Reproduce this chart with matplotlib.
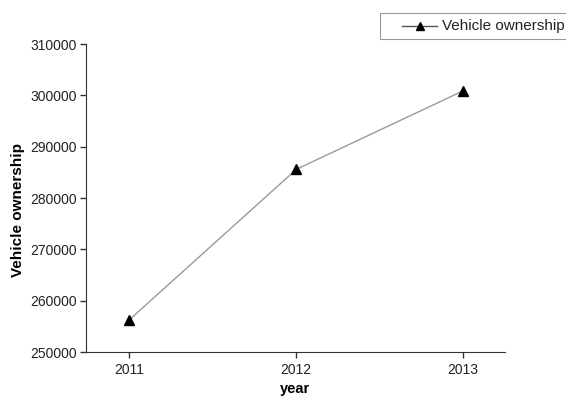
import matplotlib.pyplot as plt
from matplotlib.patches import Rectangle
from matplotlib.lines import Line2D

plt.rcParams['font.family'] = ['Liberation Sans', 'DejaVu Sans']

years = [2011, 2012, 2013]
ownership = [256300, 285600, 300900]

W, H = 566, 401
fig = plt.figure(figsize=(W / 100, H / 100), dpi=100)
ax = fig.add_axes([0.152, 0.122, 0.740, 0.768])

line, = ax.plot(years, ownership, color='#9a9a9a', lw=1, marker='^', ms=7,
                mfc='black', mec='black', label='Vehicle ownership')

ax.set_xlim(2010.74, 2013.25)
ax.set_ylim(250000, 310000)
ax.set_xticks(years)
ax.set_yticks(range(250000, 310001, 10000))
ax.tick_params(labelsize=10, length=4, width=1, pad=2.5, color='#333333',
               labelcolor='#222222')
ax.tick_params(axis='x', pad=4)

for side in ['top', 'right']:
    ax.spines[side].set_visible(False)
for side in ['left', 'bottom']:
    ax.spines[side].set_color('#333333')

ax.set_xlabel('year', fontsize=10.5, fontweight='bold', labelpad=3.5)
ax.set_ylabel('Vehicle ownership', fontsize=11, fontweight='bold')
ax.yaxis.set_label_coords(-0.145, 0.461)

# legend box in the top right corner, running off the edge of the figure
def px(x, y):
    return x / W, 1 - y / H

x0, y0 = px(380, 39)
x1, y1 = px(580, 13)
fig.patches.append(Rectangle((x0, y0), x1 - x0, y1 - y0, transform=fig.transFigure,
                             fill=True, facecolor='white', edgecolor='#999999', lw=0.8))
lx0, ly = px(402, 26)
lx1, _ = px(437, 26)
fig.lines.append(Line2D([lx0, lx1], [ly, ly], transform=fig.transFigure,
                        color='#555555', lw=1))
mx, _ = px(419.5, 26)
fig.lines.append(Line2D([mx], [ly], transform=fig.transFigure, marker='^', ms=5.5,
                        mfc='black', mec='black', lw=0))
tx, _ = px(442, 26)
fig.text(tx, ly, line.get_label(), fontsize=11, va='center', ha='left', color='#222222')

fig.savefig('out.png', dpi=100)
